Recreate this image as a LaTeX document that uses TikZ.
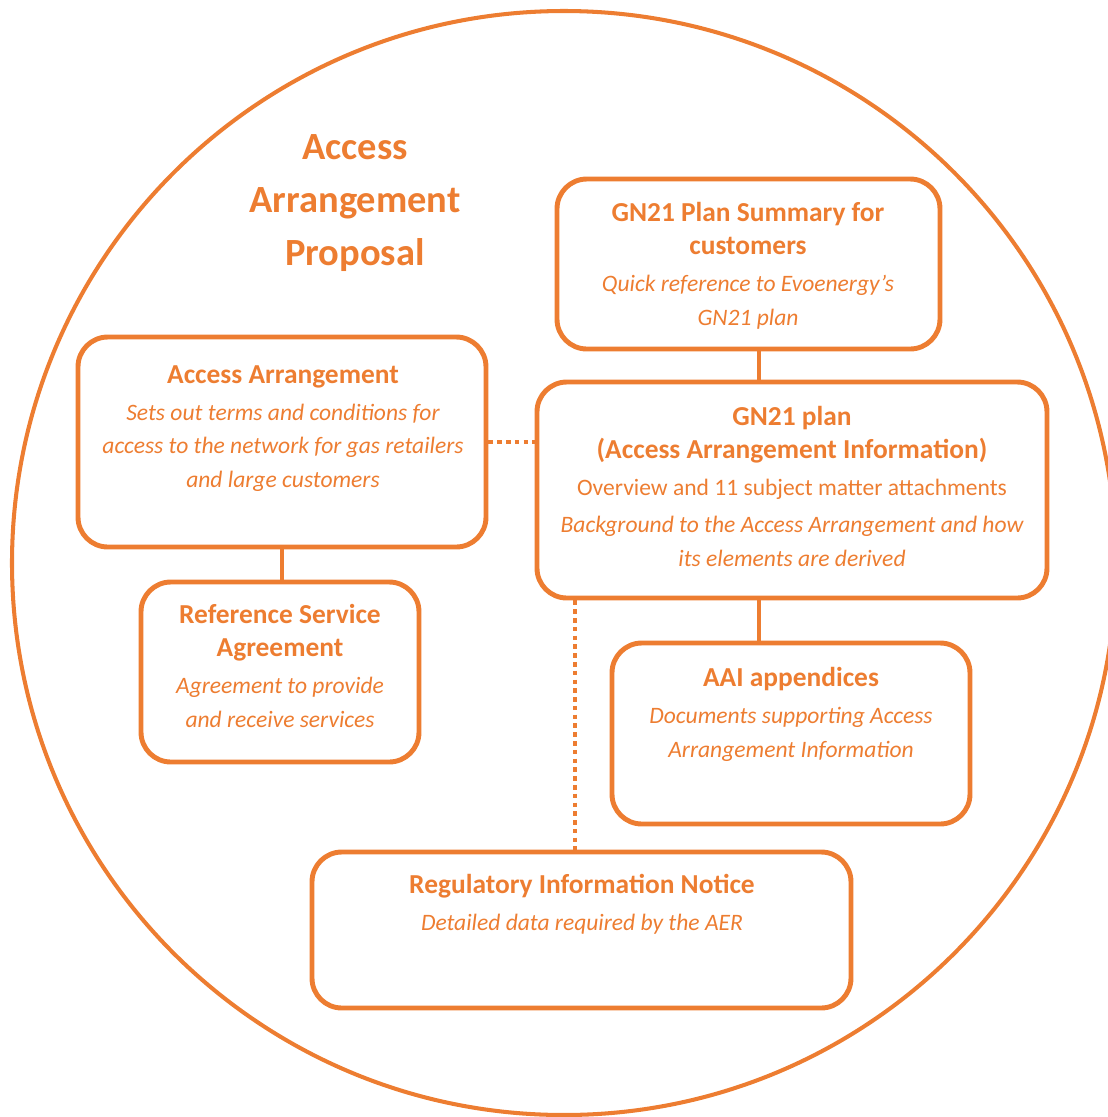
\documentclass[tikz,border=0pt]{standalone}
\usepackage{fontspec}
\setmainfont{Carlito}
\usepackage{xcolor}
\usepackage{tikz}
\usetikzlibrary{calc}
\definecolor{accent}{HTML}{ED7D31}
\newdimen\pxu \pxu=0.02cm
\newcommand{\hd}{\fontsize{15.6}{19}\selectfont\bfseries}
\newcommand{\ds}{\fontsize{13.4}{19}\selectfont\itshape}
\tikzset{
  box/.style={draw=accent, line width=2.8pt, rounded corners=17pt, inner sep=0pt},
  link/.style={draw=accent, line width=2.3pt},
  dotlink/.style={draw=accent, line width=2.6pt, dash pattern=on 2.6pt off 2.4pt},
  lab/.style={text=accent, align=center, inner sep=0pt, anchor=base,
    font=\fontsize{13.4}{19}\selectfont},
}

\begin{document}
\begin{tikzpicture}[x=0.02cm, y=-0.02cm]
  \useasboundingbox (0,0) rectangle (1108,1117);
  \draw[accent, line width=2.3pt] (564,563) circle [radius=552];

  \node[lab, font=\fontsize{21.9}{30}\selectfont\bfseries] (title) at (355,265)
    {Access\\Arrangement\\Proposal};

  % boxes
  \node[box, minimum width=383\pxu, minimum height=170\pxu] (sum) at (748.5,264) {};
  \node[box, minimum width=408\pxu, minimum height=210\pxu] (aa) at (282,442) {};
  \node[box, minimum width=510\pxu, minimum height=216\pxu] (plan) at (792,490) {};
  \node[box, minimum width=278\pxu, minimum height=180\pxu] (rsa) at (280,672) {};
  \node[box, minimum width=358\pxu, minimum height=181\pxu] (aai) at (791,733.5) {};
  \node[box, minimum width=539\pxu, minimum height=156\pxu] (rin) at (581.5,930) {};

  \node[lab] (sumtxt) at (748,325)
    {\hd GN21 Plan Summary for\\\hd customers\\[2pt]
     \ds Quick reference to Evoenergy’s\\\ds GN21 plan};
  \node[lab] (aatxt) at (283,487)
    {\hd Access Arrangement\\[2pt]
     \ds Sets out terms and conditions for\\\ds access to the network for gas retailers\\\ds and large customers};
  \node[lab] (plantxt) at (792,566)
    {\hd GN21 plan\\\hd (Access Arrangement Information)\\[2pt]
     Overview and 11 subject matter attachments\\[2pt]
     \ds Background to the Access Arrangement and how\\\ds its elements are derived};
  \node[lab] (rsatxt) at (280,727)
    {\hd Reference Service\\\hd Agreement\\[2pt]
     \ds Agreement to provide\\\ds and receive services};
  \node[lab] (aaitxt) at (791,757)
    {\hd AAI appendices\\[2pt]
     \ds Documents supporting Access\\\ds Arrangement Information};
  \node[lab] (rintxt) at (582,930)
    {\hd Regulatory Information Notice\\[2pt]
     \ds Detailed data required by the AER};

  % connectors
  \coordinate (spine) at (759,0);
  \coordinate (drop) at (575,0);
  \draw[link] (sum.south -| spine) -- (plan.north -| spine);
  \draw[link] (plan.south -| spine) -- (aai.north -| spine);
  \draw[link] (aa.south) -- (aa.south |- rsa.north);
  \draw[dotlink] (aa.east) -- (aa.east -| plan.west);
  \draw[dotlink] (plan.south -| drop) -- (rin.north -| drop);
\end{tikzpicture}
\end{document}
